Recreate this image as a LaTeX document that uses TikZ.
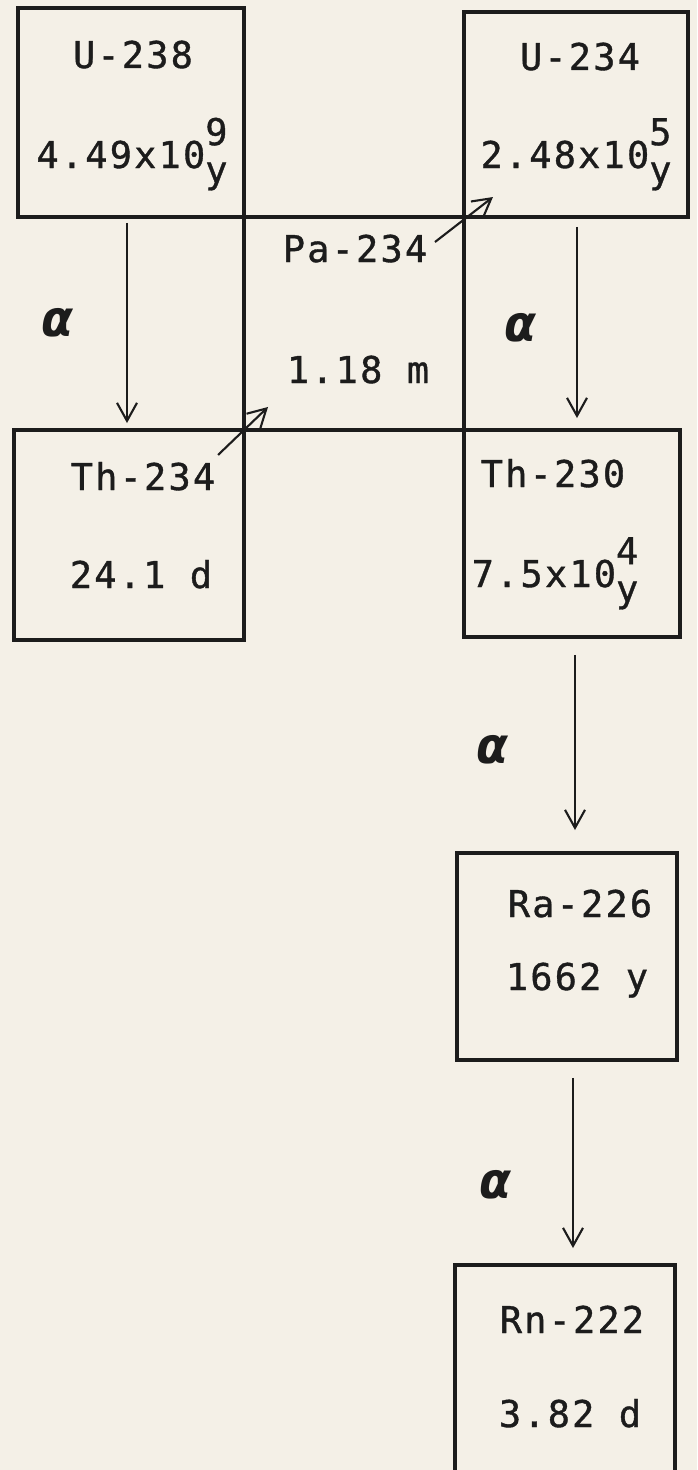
\documentclass[tikz,border=0pt]{standalone}
\usepackage{graphicx}
\usepackage{fontspec}
\newfontfamily\tipo[LetterSpace=6,FakeBold=1]{DejaVu Sans Mono}
\newfontfamily\greco{DejaVu Sans}
\usetikzlibrary{arrows.meta,calc}
\definecolor{carta}{RGB}{244,240,231}
\definecolor{inchiostro}{RGB}{28,28,28}
\newcommand\espo[2]{\makebox[0pt][l]{\raisebox{0.62em}{#1}}\raisebox{-0.4em}{#2}}

\begin{document}
\begin{tikzpicture}[x=0.02cm, y=-0.02cm,
    nuclide/.style={draw=inchiostro, line width=2pt, inner sep=0pt, outer sep=0pt},
    testo/.style={text=inchiostro, font=\tipo\fontsize{21}{24}\selectfont, anchor=base, inner sep=0pt},
    decay/.style={-{Straight Barb[length=3.6mm,width=4mm]}, draw=inchiostro, line width=1.2pt},
    alfa/.style={text=inchiostro, font=\greco\bfseries\itshape\fontsize{22}{22}\selectfont, inner sep=0pt}]

        % Foglio
        \useasboundingbox (0,0) rectangle (697,1470);
        \fill[carta] (0,0) rectangle (697,1470);
        \clip (0,0) rectangle (697,1470);

        % Caselle dei nuclidi
        \node[nuclide, minimum width=4.52cm, minimum height=4.18cm] (u238) at (131,112.5) {};
        \node[nuclide, minimum width=4.48cm, minimum height=4.10cm] (u234) at (576,114.5) {};
        \node[nuclide, minimum width=4.40cm, minimum height=4.26cm] (pa) at (354,323.5) {};
        \node[nuclide, minimum width=4.60cm, minimum height=4.20cm] (th234) at (129,535) {};
        \node[nuclide, minimum width=4.32cm, minimum height=4.14cm] (th230) at (572,533.5) {};
        \node[nuclide, minimum width=4.40cm, minimum height=4.14cm] (ra) at (567,956.5) {};
        \node[nuclide, minimum width=4.40cm, minimum height=4.60cm] (rn) at (565,1380) {};

        % Nomi e tempi di dimezzamento
        \node[testo] (u238n) at (133,68) {U-238};
        \node[testo] (u238t) at (132,168) {4.49x10\espo{9}{y}};
        \node[testo] (u234n) at (580,70) {U-234};
        \node[testo] (u234t) at (576,168) {2.48x10\espo{5}{y}};
        \node[testo] (pan) at (355,262) {Pa-234};
        \node[testo] (pat) at (358,383) {1.18 m};
        \node[testo] (th234n) at (143,490) {Th-234};
        \node[testo] (th234t) at (141,588) {24.1 d};
        \node[testo] (th230n) at (553,487) {Th-230};
        \node[testo] (th230t) at (555,587) {7.5x10\espo{4}{y}};
        \node[testo] (ran) at (580,917) {Ra-226};
        \node[testo] (rat) at (577,990) {1662 y};
        \node[testo] (rnn) at (572,1333) {Rn-222};
        \node[testo] (rnt) at (570,1427) {3.82 d};

        % Decadimenti alfa
        \draw[decay] ($(u238.south)+(-4,6)$) -- ($(th234.north)+(-2,-7)$);
        \draw[decay] ($(u234.south)+(1,10)$) -- ($(th230.north)+(5,-12)$);
        \draw[decay] ($(th230.south)+(3,18)$) -- ($(ra.north)+(8,-23)$);
        \draw[decay] ($(ra.south)+(6,18)$) -- ($(rn.north)+(8,-17)$);
        \node[alfa] (a1) at (57,323) {\scalebox{1.2}[1.3]{α}};
        \node[alfa] (a2) at (520,328) {\scalebox{1.2}[1.3]{α}};
        \node[alfa] (a3) at (492,750) {\scalebox{1.2}[1.3]{α}};
        \node[alfa] (a4) at (495,1185) {\scalebox{1.2}[1.3]{α}};

        % Decadimenti beta (attraverso gli spigoli)
        \draw[decay] ($(pa.south west)+(-26,25)$) -- ($(pa.south west)+(24,-23)$);
        \draw[decay] ($(pa.north east)+(-29,25)$) -- ($(pa.north east)+(29,-20)$);

\end{tikzpicture}
\end{document}
